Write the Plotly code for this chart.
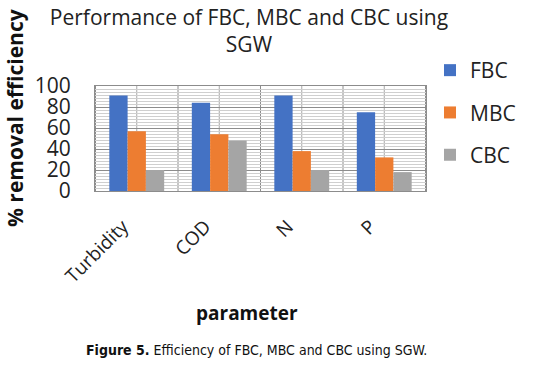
import plotly.graph_objects as go

categories = ["Turbidity", "COD", "N", "P"]
fbc = [91, 84, 91, 75]
mbc = [57, 54, 38, 32]
cbc = [20, 48, 20, 18]
y_ticks = [0, 20, 40, 60, 80, 100]

W, H = 552, 377
font = "Open Sans, Lato, sans-serif"
fig = go.Figure()
for name, vals, col in [("FBC", fbc, "#4472C4"), ("MBC", mbc, "#ED7D31"), ("CBC", cbc, "#A5A5A5")]:
    fig.add_trace(go.Bar(name=name, x=categories, y=vals, marker_color=col,
                         marker_line_width=0, legendgroup=name))

fig.update_layout(
    width=W, height=H,
    margin=dict(l=0, r=0, t=0, b=0),
    paper_bgcolor="white", plot_bgcolor="white",
    bargap=0.335, bargroupgap=0,
    font=dict(family=font, color="#222"),
    title=dict(text="Performance of FBC, MBC and CBC using<br>SGW", x=0.451, xanchor="center",
               y=0.934, yanchor="top", font=dict(size=21, family=font, color="#222")),
    legend=dict(x=430 / W, xanchor="left", y=1 - 50 / H, yanchor="top", tracegroupgap=12,
                font=dict(size=21, family=font, color="#222"), itemwidth=30,
                bgcolor="rgba(0,0,0,0)"),
    showlegend=True,
)
fig.update_yaxes(domain=[1 - 191 / H, 1 - 86 / H], range=[0, 100], tickvals=y_ticks,
                 showgrid=True, gridcolor="#8c8c8c", gridwidth=1,
                 minor=dict(dtick=2.857, showgrid=True, gridcolor="#cfcfcf", gridwidth=1),
                 tickfont=dict(size=21, family=font, color="#222"), ticklabelstandoff=19,
                 showline=True, linecolor="#8c8c8c", mirror=True, zeroline=False,
                 automargin=False)
fig.update_xaxes(domain=[95 / W, 426 / W], tickangle=-45, tickfont=dict(size=19, family=font, color="#222"),
                 showgrid=False, showline=True, linecolor="#8c8c8c", mirror=True,
                 ticks="", ticklabelstandoff=16, ticklabelshift=-14, automargin=False)
# vertical grid lines at category boundaries and centers
for i in range(len(categories) + 1):
    fig.add_vline(x=i - 0.5, line_color="#8c8c8c", line_width=1, layer="below")
for i in range(len(categories)):
    fig.add_vline(x=i, line_color="#a8a8a8", line_width=1, layer="below")

fig.add_annotation(text="% removal efficiency", xref="paper", yref="paper", x=15 / W, y=1 - 118 / H,
                   textangle=-90, showarrow=False, xanchor="center", yanchor="middle",
                   font=dict(size=21, family=font, color="#111", weight="bold"))
fig.add_annotation(text="parameter", xref="paper", yref="paper", x=247 / W, y=1 - 313 / H,
                   showarrow=False, xanchor="center", yanchor="middle",
                   font=dict(size=19, family=font, color="#111", weight="bold"))
fig.add_annotation(text="<b>Figure 5.</b> Efficiency of FBC, MBC and CBC using SGW.", xref="paper", yref="paper",
                   x=256 / W, y=1 - 350 / H, showarrow=False, xanchor="center", yanchor="middle",
                   font=dict(size=14, family="Liberation Sans Narrow, Arial Narrow, DejaVu Sans Condensed, sans-serif", color="#111"))
fig.write_html("out.html", config={"displayModeBar": False},
               post_script="document.body.style.margin='0';")
